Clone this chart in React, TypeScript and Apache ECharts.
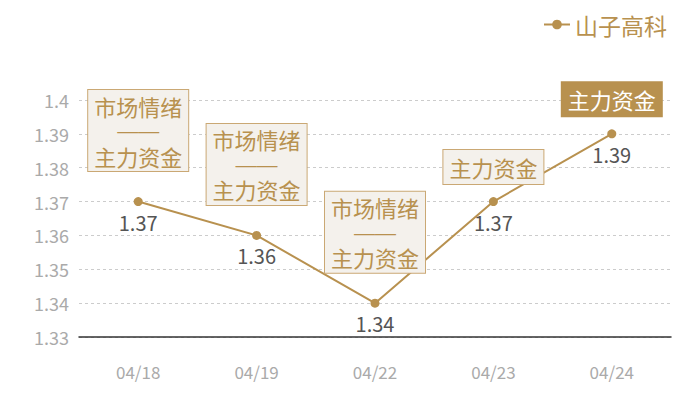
import { useEffect, useRef } from 'react'
import * as echarts from 'echarts'

const categories = ['04/18', '04/19', '04/22', '04/23', '04/24']
const prices = [1.37, 1.36, 1.34, 1.37, 1.39]
const tags = ['市场情绪\n——\n主力资金', '市场情绪\n——\n主力资金', '市场情绪\n——\n主力资金', '主力资金', '主力资金']
const highlighted = [false, false, false, false, true]
const seriesName = '山子高科'

const GOLD = '#b8914f'
const FONT = '"Noto Sans CJK SC", "Noto Sans", sans-serif'

export default function App() {
  const ref = useRef<HTMLDivElement>(null)

  useEffect(() => {
    if (!ref.current) {
      return
    }
    const chart = echarts.init(ref.current, null, { renderer: 'svg' })

    // tag boxes above each point; the dash line uses a font whose em dashes join up
    const tagData = prices.map((v, i) => {
      const multi = tags[i].includes('\n')
      const filled = highlighted[i]
      const text = tags[i]
        .split('\n')
        .map((line) => (line.startsWith('—') ? `{d|${line}}` : line))
        .join('\n')
      return {
        value: v,
        label: {
          show: true,
          position: 'top' as const,
          distance: multi ? 30 : 17,
          formatter: text,
          fontFamily: FONT,
          fontSize: 22,
          lineHeight: multi ? 25 : 28,
          color: filled ? '#fff' : GOLD,
          backgroundColor: filled ? GOLD : '#f4f1ec',
          borderColor: filled ? GOLD : '#caa874',
          borderWidth: 1,
          padding: [3, 6, 3, 6],
          rich: {
            d: { fontFamily: '"Liberation Sans"', fontSize: 21, color: GOLD, lineHeight: 25 },
          },
        },
      }
    })

    chart.setOption({
      animation: false,
      textStyle: { fontFamily: FONT },
      legend: {
        data: [seriesName],
        right: 20,
        top: 0,
        itemWidth: 26,
        itemHeight: 12,
        itemGap: 6,
        textStyle: { color: GOLD, fontSize: 23, fontFamily: FONT },
      },
      grid: { left: 71, right: 21, top: 92, bottom: 63 },
      xAxis: {
        type: 'category',
        data: categories,
        axisLine: { lineStyle: { color: '#333', width: 1.5 } },
        axisTick: { show: false },
        axisLabel: { color: '#aaa', fontSize: 17, margin: 26 },
      },
      yAxis: {
        type: 'value',
        min: 1.33,
        max: 1.4,
        interval: 0.01,
        axisLine: { show: false },
        axisTick: { show: false },
        axisLabel: {
          color: '#aaa',
          fontSize: 18,
          margin: 10,
          formatter: (v: number) => String(Math.round(v * 100) / 100),
        },
        splitLine: { lineStyle: { color: '#ccc', type: [3, 3] } },
      },
      series: [
        {
          name: seriesName,
          type: 'line',
          data: prices,
          symbol: 'circle',
          symbolSize: 9,
          itemStyle: { color: GOLD },
          lineStyle: { color: GOLD, width: 2 },
          label: {
            show: true,
            position: 'bottom',
            distance: 6,
            color: '#555',
            fontSize: 20,
            fontFamily: FONT,
          },
          z: 3,
        },
        {
          name: 'tags',
          type: 'line',
          data: tagData,
          symbol: 'circle',
          symbolSize: 1,
          itemStyle: { color: 'rgba(0,0,0,0)' },
          lineStyle: { opacity: 0 },
          silent: true,
          z: 4,
        },
      ],
    })

    return () => {
      chart.dispose()
    }
  }, [])

  return <div ref={ref} style={{ width: 684, height: 392 }} />
}
